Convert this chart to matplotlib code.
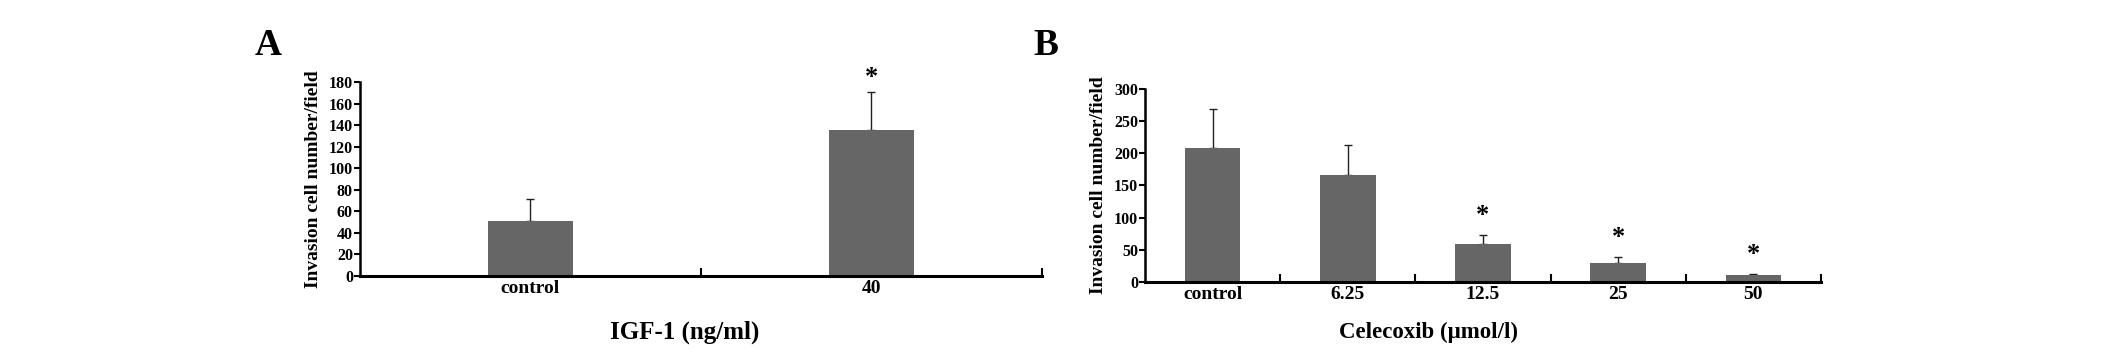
import numpy as np
import matplotlib
matplotlib.use("Agg")
import matplotlib.pyplot as plt

plt.rcParams['font.family'] = ['Liberation Serif', 'DejaVu Serif']
plt.rcParams['font.weight'] = 'bold'

# panel A data
a_cats = ['control', '40']
a_vals = [51.4, 135.7]
a_errs = [20.4, 35.6]
a_star = [False, True]

# panel B data
b_cats = ['control', '6.25', '12.5', '25', '50']
b_vals = [209, 167, 58.6, 29.5, 10.4]
b_errs = [60.5, 45.5, 14.0, 8.9, 2.0]
b_star = [False, False, True, True, True]

bar_color = '#666666'

fig = plt.figure(figsize=(21.26, 3.57), dpi=100)
axA = fig.add_axes([0.1693, 0.2269, 0.3208, 0.5426])
axB = fig.add_axes([0.5386, 0.2101, 0.3179, 0.5406])


def style(ax, cats, vals, errs, stars, width, ymax, ystep, xlabel, xl_size, xl_pos, star_off):
    n = len(cats)
    x = np.arange(n) + 0.5
    ax.bar(x, vals, width=width, color=bar_color, zorder=2)
    ax.errorbar(x, vals, yerr=[np.zeros(n), errs], fmt='none', ecolor='#222222',
                elinewidth=1.0, capsize=3, capthick=1.0, zorder=1)
    for xi, v, e, s in zip(x, vals, errs, stars):
        if s:
            ax.annotate('*', (xi, v + e), xytext=(0, star_off), textcoords='offset points',
                        ha='center', va='center', fontsize=19, fontweight='bold')
    ax.set_xlim(0, n)
    ax.set_ylim(0, ymax)
    ax.set_yticks(np.arange(0, ymax + 1, ystep))
    ax.set_xticks(x)
    ax.set_xticklabels(cats, fontsize=14, fontweight='bold')
    ax.set_xticks(np.arange(1, n + 1), minor=True)
    ax.tick_params(axis='x', which='major', length=0, pad=3)
    ax.tick_params(axis='x', which='minor', direction='in', length=6, width=1.5)
    ax.tick_params(axis='y', direction='out', length=4, width=1.5, labelsize=11.5, pad=1)
    for lab in ax.get_yticklabels():
        lab.set_fontweight('bold')
    for sp in ['top', 'right']:
        ax.spines[sp].set_visible(False)
    ax.spines['left'].set_linewidth(1.8)
    ax.spines['bottom'].set_linewidth(2.2)
    ax.set_ylabel('Invasion cell number/field', fontsize=14, fontweight='bold', labelpad=5)
    ax.set_xlabel(xlabel, fontsize=xl_size, fontweight='bold', va='center')
    ax.xaxis.set_label_coords(*xl_pos)


style(axA, a_cats, a_vals, a_errs, a_star, 0.25, 180, 20, 'IGF-1 (ng/ml)', 18, (0.476, -0.289), 10)
style(axB, b_cats, b_vals, b_errs, b_star, 0.41, 300, 50, 'Celecoxib (\u03bcmol/l)', 16.5, (0.42, -0.259), 14)

fig.text(0.126, 0.8725, 'A', fontsize=27, fontweight='bold', ha='center', va='center')
fig.text(0.492, 0.8725, 'B', fontsize=27, fontweight='bold', ha='center', va='center')

fig.savefig('out.png', dpi=100, facecolor='white')
